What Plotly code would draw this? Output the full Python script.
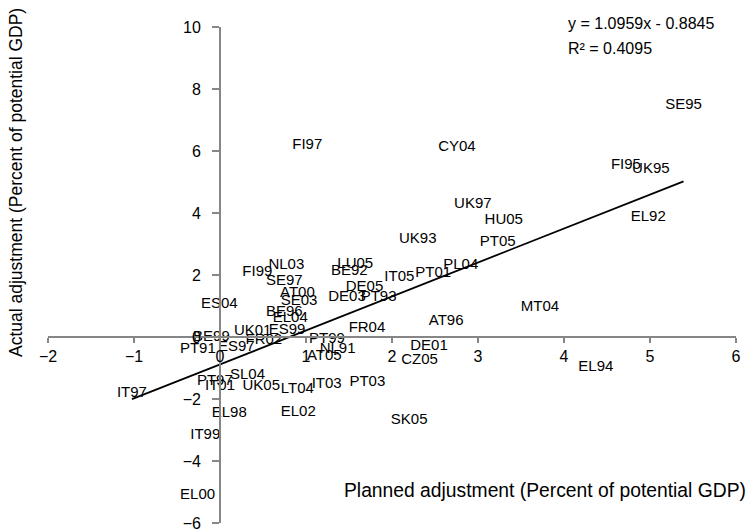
import plotly.graph_objects as go

labels = ["SE95", "FI95", "UK95", "EL92", "EL94", "MT04", "CY04", "UK97", "HU05", "UK93",
          "PT05", "PL04", "PT01", "IT05", "AT96", "DE01", "CZ05", "SK05", "PT03", "IT03",
          "LT04", "EL02", "FI97", "LU05", "BE92", "DE05", "DE03", "PT93", "FR04", "PT99",
          "NL91", "AT05", "NL03", "FI99", "SE97", "AT00", "SE03", "ES04", "BE96", "EL04",
          "UK01", "ES99", "BE99", "ES97", "FR02", "PT91", "IT97", "SL04", "PT97", "IT01",
          "UK05", "EL98", "IT99", "EL00"]
planned = [5.39, 4.72, 5.01, 4.98, 4.37, 3.72, 2.755, 2.94, 3.30, 2.30,
           3.23, 2.80, 2.48, 2.085, 2.63, 2.43, 2.32, 2.20, 1.713, 1.24,
           0.90, 0.91, 1.015, 1.573, 1.504, 1.68, 1.477, 1.844, 1.709, 1.244,
           1.367, 1.213, 0.771, 0.434, 0.748, 0.90, 0.92, -0.008, 0.748, 0.817,
           0.38, 0.78, -0.10, 0.19, 0.51, -0.258, -1.024, 0.32, -0.06, 0.0,
           0.48, 0.108, -0.171, -0.26]
actual = [7.47, 5.54, 5.40, 3.87, -0.97, 0.95, 6.13, 4.27, 3.76, 3.15,
          3.06, 2.31, 2.05, 1.94, 0.51, -0.30, -0.75, -2.69, -1.45, -1.54,
          -1.67, -2.42, 6.18, 2.35, 2.13, 1.61, 1.27, 1.27, 0.27, -0.08,
          -0.41, -0.62, 2.31, 2.10, 1.81, 1.42, 1.16, 1.05, 0.81, 0.59,
          0.19, 0.22, 0.0, -0.32, -0.11, -0.41, -1.81, -1.22, -1.43, -1.60,
          -1.60, -2.47, -3.17, -5.11]

slope = 1.0959
intercept = -0.8845
r_squared = 0.4095

x_ticks = [-2, -1, 0, 1, 2, 3, 4, 5, 6]
y_ticks = [-6, -4, -2, 0, 2, 4, 6, 8, 10]

W, H = 752, 531
ML, MR, MT, MB = 48, 16, 27, 8
PW, PH = W - ML - MR, H - MT - MB


def px(x):
    return (x - ML) / PW


def py(y):
    return 1 - (y - MT) / PH


FONT = "Arial, Liberation Sans, sans-serif"

fig = go.Figure()

fig.add_trace(go.Scatter(
    x=planned, y=actual, text=labels, mode="text",
    textposition="middle center",
    textfont=dict(family=FONT, size=15, color="#000000"),
    hoverinfo="text", showlegend=False, cliponaxis=False,
))

xmin, xmax = min(planned), max(planned)
fig.add_trace(go.Scatter(
    x=[xmin, xmax], y=[slope * xmin + intercept, slope * xmax + intercept],
    mode="lines", line=dict(color="#000000", width=1.8),
    hoverinfo="skip", showlegend=False,
))

axis_common = dict(
    showgrid=False, zeroline=False, showline=True, linecolor="#868686", linewidth=1.8,
    ticks="outside", tickwidth=1.5, tickcolor="#868686", ticklabeloverflow="allow",
    automargin=False,
    tickfont=dict(family=FONT, size=16, color="#000000"),
)

fig.update_layout(
    width=W, height=H,
    margin=dict(l=ML, r=MR, t=MT, b=MB, autoexpand=False),
    paper_bgcolor="white", plot_bgcolor="white",
    xaxis=dict(range=[-2, 6], tickvals=x_ticks, anchor="free", position=6 / 16,
               ticklen=5, **axis_common),
    yaxis=dict(range=[-6, 10], tickvals=y_ticks, anchor="free", position=2 / 8,
               ticklen=7, ticklabelstandoff=8, **axis_common),
)

fig.add_annotation(
    text="y = 1.0959x - 0.8845", xref="paper", yref="paper",
    x=px(566), y=py(24), xanchor="left", yanchor="middle", showarrow=False,
    font=dict(family=FONT, size=16, color="#000000"),
)
fig.add_annotation(
    text="R² = " + str(r_squared), xref="paper", yref="paper",
    x=px(566), y=py(49), xanchor="left", yanchor="middle", showarrow=False,
    font=dict(family=FONT, size=16, color="#000000"),
)
fig.add_annotation(
    text="Planned adjustment (Percent of potential GDP)", xref="paper", yref="paper",
    x=px(545), y=py(490), xanchor="center", yanchor="middle", showarrow=False,
    font=dict(family=FONT, size=19.3, color="#000000"),
)
fig.add_annotation(
    text="Actual adjustment (Percent of potential GDP)", xref="paper", yref="paper",
    x=px(16), y=py(183), xanchor="center", yanchor="middle", showarrow=False, textangle=-90,
    font=dict(family=FONT, size=17.5, color="#000000"),
)

fig.write_html(
    "out.html",
    config={"displayModeBar": False},
    post_script="document.body.style.margin='0';document.body.style.overflow='hidden';",
)
